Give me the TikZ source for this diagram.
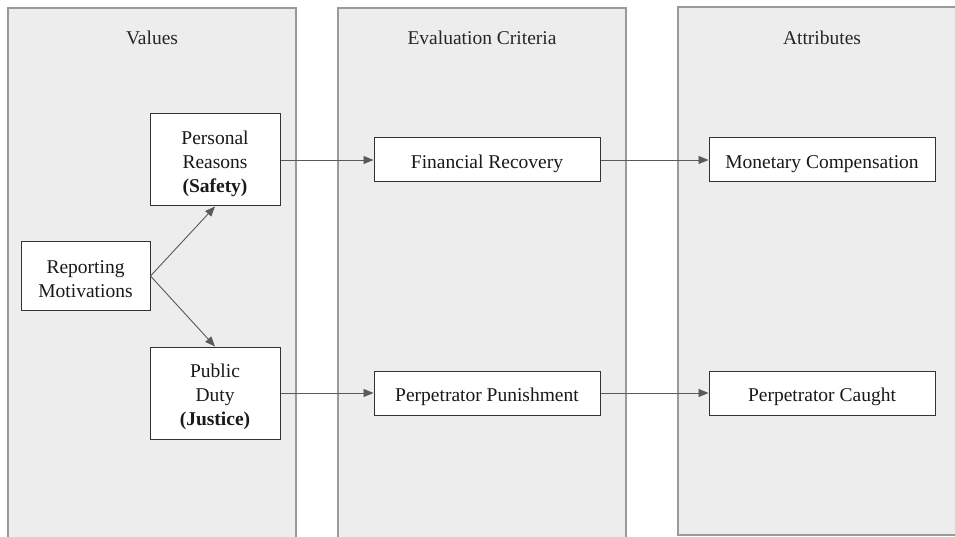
\documentclass[tikz,border=0pt]{standalone}
\usepackage{fontspec}
\setmainfont{Liberation Serif}
\usetikzlibrary{arrows.meta}
\definecolor{panelfill}{HTML}{EDEDED}
\definecolor{panelline}{HTML}{9A9A9A}
\definecolor{boxline}{HTML}{333333}
\definecolor{arrowline}{HTML}{5A5A5A}
% extra room above the first line of a box label
\newcommand\topgap[1]{\rule{0pt}{#1}}
\begin{document}
\begin{tikzpicture}[x=1pt,y=-1pt,
  panel/.style={draw=panelline,fill=panelfill,line width=1.3pt},
  paneltitle/.style={font=\fontsize{19.5}{24}\selectfont,text=black!85},
  box/.style={draw=boxline,fill=white,line width=1pt,align=center,inner sep=0pt,
    font=\fontsize{19.5}{24}\selectfont,text=black!90},
  link/.style={draw=arrowline,line width=0.9pt,-{Triangle[length=10pt,width=8pt]}}]
\useasboundingbox (0,0) rectangle (955,537);
\begin{scope}
\clip (0,0) rectangle (955,537);
% the three columns
\draw[panel] (8,8) rectangle (296,560);
\draw[panel] (338,8) rectangle (626,560);
\draw[panel] (678,7) rectangle (980,535);
\end{scope}
\node[paneltitle] (tv) at (152,38) {Values};
\node[paneltitle] (te) at (482,38) {Evaluation Criteria};
\node[paneltitle] (ta) at (822,38) {Attributes};
% boxes
\node[box,minimum width=130pt,minimum height=92pt] (pr) at (215,160)
  {\topgap{22pt}Personal\\Reasons\\\textbf{(Safety)}};
\node[box,minimum width=129pt,minimum height=68pt] (rm) at (85.5,276)
  {\topgap{19pt}Reporting\\Motivations};
\node[box,minimum width=130pt,minimum height=92pt] (pd) at (215,393)
  {\topgap{22pt}Public\\Duty\\\textbf{(Justice)}};
\node[box,minimum width=226pt,minimum height=44pt] (fr) at (487,160) {\topgap{21pt}Financial Recovery};
\node[box,minimum width=226pt,minimum height=44pt] (pp) at (487,393) {\topgap{21pt}Perpetrator Punishment};
\node[box,minimum width=226pt,minimum height=44pt] (mc) at (822,160) {\topgap{21pt}Monetary Compensation};
\node[box,minimum width=226pt,minimum height=44pt] (pc) at (822,393) {\topgap{21pt}Perpetrator Caught};
% connectors
\draw[link] (rm.east) -- (pr.south);
\draw[link] (rm.east) -- (pd.north);
\draw[link] (pr.east) -- (fr.west);
\draw[link] (fr.east) -- (mc.west);
\draw[link] (pd.east) -- (pp.west);
\draw[link] (pp.east) -- (pc.west);
\end{tikzpicture}
\end{document}
